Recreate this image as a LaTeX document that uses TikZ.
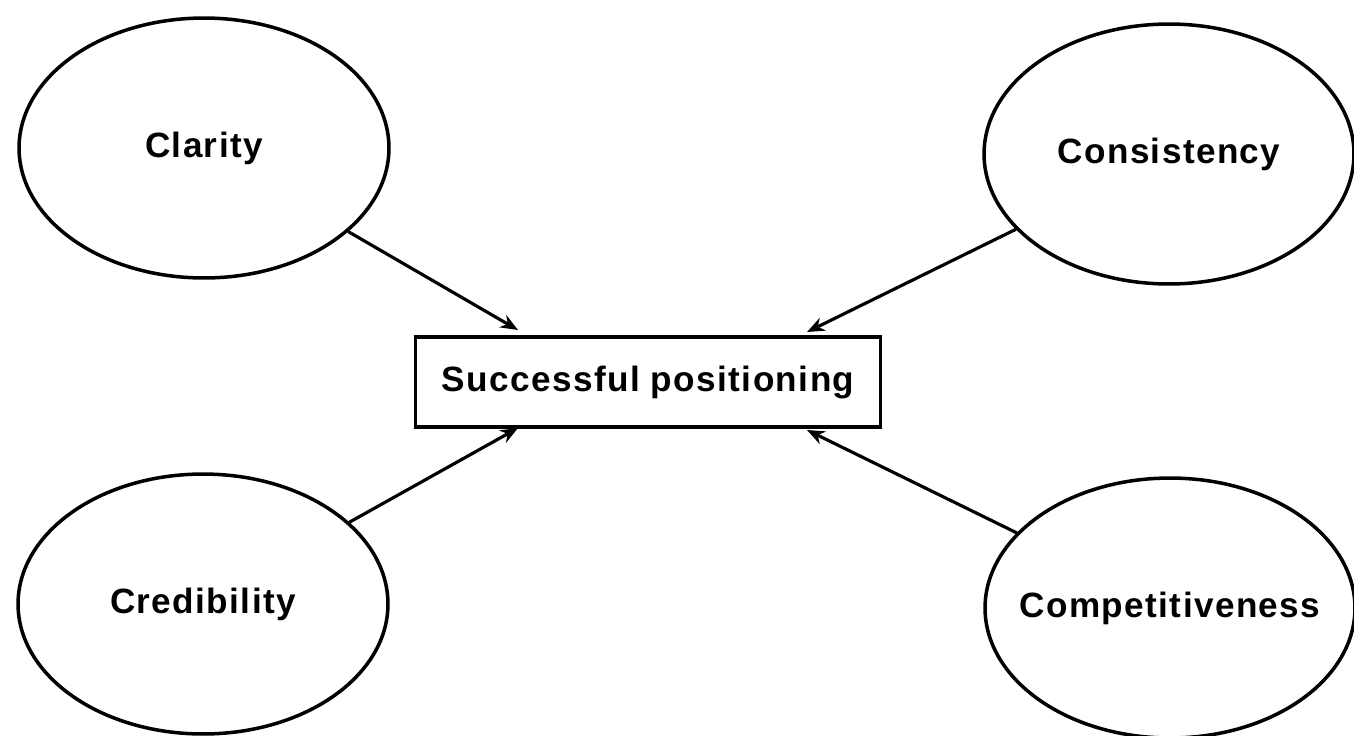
\documentclass[tikz,border=0pt]{standalone}
\usepackage{fontspec}
\setmainfont{Liberation Sans}[LetterSpace=4.0]
\usetikzlibrary{shapes.geometric,arrows.meta}
\begin{document}
\begin{tikzpicture}[x = 0.02cm, y = -0.02cm,
  factor/.style = {draw, ellipse, inner sep = 0pt, line width = 2pt, minimum width = 7.4cm, minimum height = 5.2cm, font = \fontsize{20}{24}\selectfont\bfseries},
  goal/.style = {draw, rectangle, line width = 2pt, minimum width = 9.3cm, minimum height = 1.8cm, font = \fontsize{20}{24}\selectfont\bfseries},
  link/.style = {line width = 1.8pt, -{Stealth[length = 10pt, width = 8pt]}}]
\useasboundingbox (0,0) rectangle (1354,735);
\node (clarity) [factor] at (204,148) {Clarity};
\node (consist) [factor] at (1169,154) {Consistency};
\node (cred) [factor] at (203,604) {Credibility};
% keep the ellipse the same size as the others
\node (compet) [factor] at (1170,608) {\makebox[0pt]{Competitiveness}};
\node (goal) [goal] at (648,382) {Successful positioning};
\coordinate (topL) at (518,330);
\coordinate (topR) at (807,332);
\coordinate (botL) at (518,428);
\coordinate (botR) at (807,430);
\draw [link] (clarity) -- (topL);
\draw [link] (consist) -- (topR);
\draw [link] (cred) -- (botL);
\draw [link] (compet) -- (botR);
\end{tikzpicture}
\end{document}
